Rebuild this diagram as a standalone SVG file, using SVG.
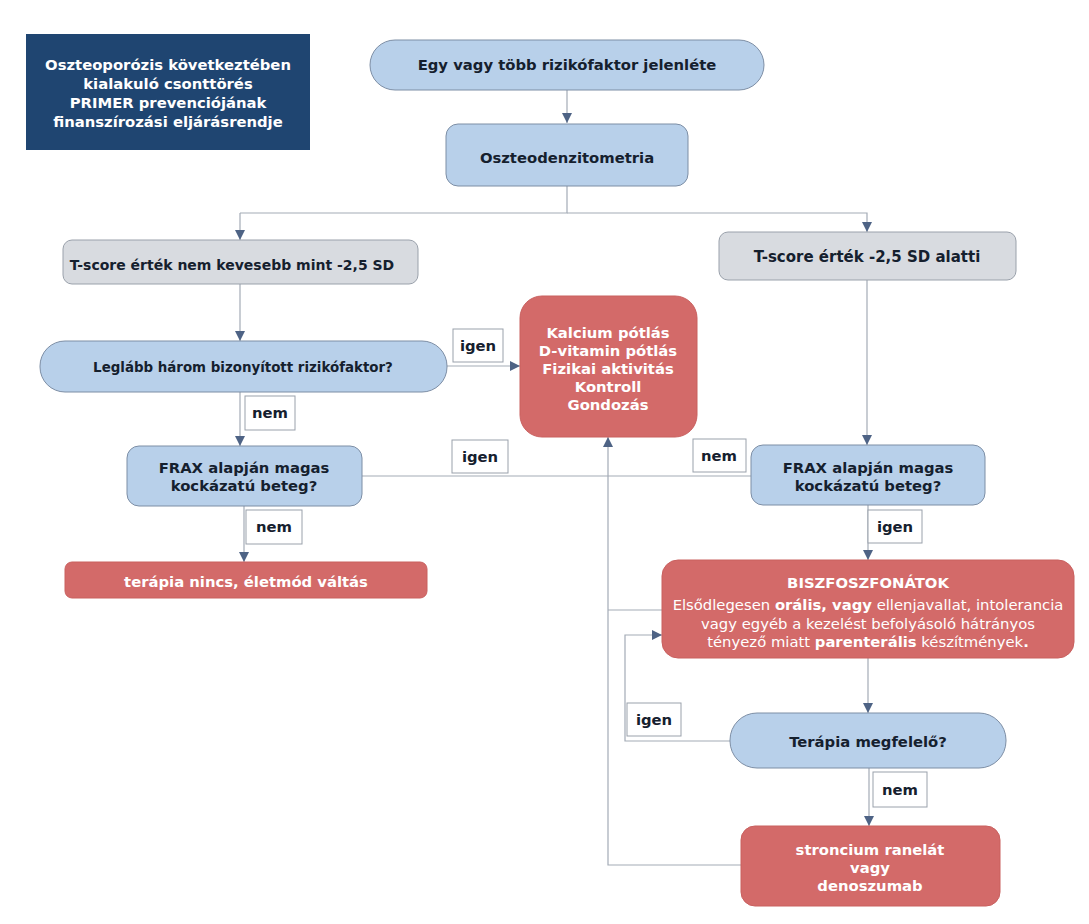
<svg xmlns="http://www.w3.org/2000/svg" width="1089" height="924" viewBox="0 0 1089 924">
<defs>
<marker id="arr" viewBox="0 0 10 10" refX="10" refY="5" markerWidth="10" markerHeight="10" markerUnits="userSpaceOnUse" orient="auto">
<path d="M0,0 L10,5 L0,10 z" fill="#4e6385"/>
</marker>
</defs>
<style>
text{font-family:"DejaVu Sans",Verdana,sans-serif;font-size:14.8px;text-anchor:middle;}
.b{font-weight:bold;}
.blue{fill:#b8d0ea;stroke:#7d8ea5;stroke-width:1;}
.gray{fill:#d8dbe0;stroke:#9aa1ab;stroke-width:1;}
.red{fill:#d36a69;stroke:#c9605f;stroke-width:1;}
.lbl{fill:#ffffff;stroke:#9aa1ab;stroke-width:1;}
.dk{fill:#15202e;}
.wt{fill:#ffffff;}
.c{fill:none;stroke:#a3abb6;stroke-width:1.2;}
.ca{fill:none;stroke:#a3abb6;stroke-width:1.2;marker-end:url(#arr);}
</style>
<rect width="1089" height="924" fill="#ffffff"/>

<g id="title">
<rect x="26" y="34" width="284" height="116" fill="#1f4571"/>
<text class="b wt" x="168" y="70">Oszteoporózis következtében</text>
<text class="b wt" x="168" y="89">kialakuló csonttörés</text>
<text class="b wt" x="168" y="108">PRIMER prevenciójának</text>
<text class="b wt" x="168" y="127">finanszírozási eljárásrendje</text>
</g>

<g id="connectors">
<path class="ca" d="M567,90 V123"/>
<path class="c" d="M567,186 V213 H240"/>
<path class="ca" d="M240,213 V240"/>
<path class="ca" d="M567,213 H867 V232"/>
<path class="ca" d="M240,284 V341"/>
<path class="ca" d="M447,366 H520"/>
<path class="ca" d="M240,392 V446"/>
<path class="c" d="M362,476 H752"/>
<path class="ca" d="M867,280 V445"/>
<path class="ca" d="M244,506 V562"/>
<path class="ca" d="M868,505 V560"/>
<path class="c" d="M662,610 H608"/>
<path class="ca" d="M741,865 H608 V437"/>
<path class="ca" d="M730,741 H625 V635 H662"/>
<path class="ca" d="M868,658 V713"/>
<path class="ca" d="M869,768 V826"/>
</g>

<g id="n1">
<rect class="blue" x="370" y="40" width="394" height="50" rx="25"/>
<text class="b dk" x="567" y="70">Egy vagy több rizikófaktor jelenléte</text>
</g>
<g id="n2">
<rect class="blue" x="446" y="124" width="242" height="62" rx="12"/>
<text class="b dk" x="567" y="163">Oszteodenzitometria</text>
</g>
<g id="n3">
<rect class="gray" x="63" y="240" width="355" height="44" rx="9"/>
<text class="b dk" x="232" y="270" style="font-size:14px">T-score érték nem kevesebb mint -2,5 SD</text>
</g>
<g id="n4">
<rect class="gray" x="719" y="232" width="297" height="48" rx="9"/>
<text class="b dk" x="867" y="262" style="font-size:15px">T-score érték -2,5 SD alatti</text>
</g>
<g id="n5">
<rect class="blue" x="40" y="341" width="407" height="51" rx="25"/>
<text class="b dk" x="243" y="372" style="font-size:13.4px">Leglább három bizonyított rizikófaktor?</text>
</g>
<g id="n6">
<rect class="red" x="520" y="296" width="177" height="141" rx="22"/>
<text class="b wt" x="608" y="338">Kalcium pótlás</text>
<text class="b wt" x="608" y="356">D-vitamin pótlás</text>
<text class="b wt" x="608" y="374">Fizikai aktivitás</text>
<text class="b wt" x="608" y="392">Kontroll</text>
<text class="b wt" x="608" y="410">Gondozás</text>
</g>
<g id="n7">
<rect class="blue" x="127" y="446" width="235" height="60" rx="12"/>
<text class="b dk" x="244" y="473">FRAX alapján magas</text>
<text class="b dk" x="244" y="491">kockázatú beteg?</text>
</g>
<g id="n8">
<rect class="blue" x="751" y="445" width="234" height="60" rx="12"/>
<text class="b dk" x="868" y="473">FRAX alapján magas</text>
<text class="b dk" x="868" y="491">kockázatú beteg?</text>
</g>
<g id="n9">
<rect class="red" x="65" y="562" width="362" height="36" rx="7"/>
<text class="b wt" x="246" y="587">terápia nincs, életmód váltás</text>
</g>
<g id="n10">
<rect class="red" x="662" y="560" width="412" height="98" rx="16"/>
<text class="b wt" x="868" y="588">BISZFOSZFONÁTOK</text>
<text class="wt" x="868" y="610">Elsődlegesen <tspan class="b">orális, vagy</tspan> ellenjavallat, intolerancia</text>
<text class="wt" x="868" y="629">vagy egyéb a kezelést befolyásoló hátrányos</text>
<text class="wt" x="868" y="647">tényező miatt <tspan class="b">parenterális</tspan> készítmények<tspan class="b">.</tspan></text>
</g>
<g id="n11">
<rect class="blue" x="730" y="713" width="276" height="55" rx="27"/>
<text class="b dk" x="868" y="747">Terápia megfelelő?</text>
</g>
<g id="n12">
<rect class="red" x="741" y="826" width="259" height="80" rx="14"/>
<text class="b wt" x="870" y="855">stroncium ranelát</text>
<text class="b wt" x="870" y="873">vagy</text>
<text class="b wt" x="870" y="891">denoszumab</text>
</g>

<g id="labels">
<g id="l1"><rect class="lbl" x="453" y="329" width="50" height="33"/><text class="b dk" x="478" y="351">igen</text></g>
<g id="l2"><rect class="lbl" x="245" y="396" width="50" height="34"/><text class="b dk" x="270" y="418">nem</text></g>
<g id="l3"><rect class="lbl" x="452" y="440" width="56" height="33"/><text class="b dk" x="480" y="462">igen</text></g>
<g id="l4"><rect class="lbl" x="693" y="439" width="53" height="33"/><text class="b dk" x="719" y="461">nem</text></g>
<g id="l5"><rect class="lbl" x="246" y="510" width="56" height="34"/><text class="b dk" x="274" y="532">nem</text></g>
<g id="l6"><rect class="lbl" x="868" y="510" width="54" height="33"/><text class="b dk" x="895" y="532">igen</text></g>
<g id="l7"><rect class="lbl" x="627" y="703" width="54" height="33"/><text class="b dk" x="654" y="725">igen</text></g>
<g id="l8"><rect class="lbl" x="873" y="772" width="54" height="35"/><text class="b dk" x="900" y="795">nem</text></g>
</g>
</svg>
